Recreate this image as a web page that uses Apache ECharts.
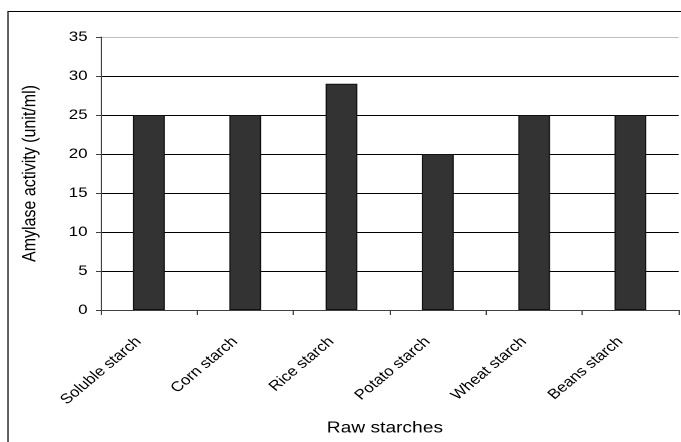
<!DOCTYPE html>
<html>
<head>
<meta charset="utf-8">
<script src="https://cdn.jsdelivr.net/npm/echarts@6/dist/echarts.min.js"></script>
<style>
  html, body { margin: 0; padding: 0; background: #fff; overflow: hidden; }
  /* the chart is laid out narrower and widened horizontally, giving the stretched look */
  #chart { width: 568px; height: 442px; transform: scaleX(1.19894); transform-origin: 0 0; }
</style>
</head>
<body>
<div id="chart"></div>
<script>
// Amylase activity measured on different raw starch substrates
const categories = ['Soluble starch', 'Corn starch', 'Rice starch', 'Potato starch', 'Wheat starch', 'Beans starch'];
const activity = [25, 25, 29, 20, 25, 25];
const yTicks = [0, 5, 10, 15, 20, 25, 30, 35];

const chart = echarts.init(document.getElementById('chart'), null, { renderer: 'canvas', devicePixelRatio: 2 });
const font = 'Arial, "Liberation Sans", sans-serif';

chart.setOption({
  animation: false,
  backgroundColor: '#ffffff',
  graphic: [{
    type: 'rect',
    shape: { x: 6.7, y: 11.5, width: 700, height: 500 },
    style: { fill: 'none', stroke: '#000', lineWidth: 1 },
    silent: true
  }],
  grid: { left: 84, right: 2, top: 37, bottom: 132, containLabel: false },
  xAxis: {
    type: 'category',
    data: categories,
    name: 'Raw starches',
    nameLocation: 'middle',
    nameGap: 110,
    nameTextStyle: { fontFamily: font, fontSize: 16, color: '#000', padding: [0, 8, 0, 0] },
    axisLine: { lineStyle: { color: '#404040', width: 1 } },
    axisTick: { show: true, length: 5, alignWithLabel: false, lineStyle: { color: '#404040' } },
    axisLabel: {
      rotate: 45, fontFamily: font, fontSize: 14, color: '#000',
      margin: 21, interval: 0, padding: [0, 12, 0, 0]
    }
  },
  yAxis: {
    type: 'value',
    min: yTicks[0],
    max: yTicks[yTicks.length - 1],
    interval: 5,
    name: 'Amylase activity (unit/ml)',
    nameLocation: 'middle',
    nameGap: 51,
    nameTextStyle: { fontFamily: font, fontSize: 16, color: '#000' },
    axisLine: { show: true, lineStyle: { color: '#404040', width: 1 } },
    axisTick: { show: true, length: 4, inside: false, lineStyle: { color: '#404040' } },
    axisLabel: { fontFamily: font, fontSize: 14, color: '#000', margin: 11 },
    splitLine: {
      show: true,
      lineStyle: { color: ['#000', '#000', '#000', '#000', '#000', '#000', '#000', '#bdbdbd'], width: 1 }
    }
  },
  series: [{
    type: 'bar',
    data: activity,
    barWidth: '33%',
    itemStyle: { color: '#333333', borderColor: '#111', borderWidth: 1 }
  }]
});
</script>
</body>
</html>
